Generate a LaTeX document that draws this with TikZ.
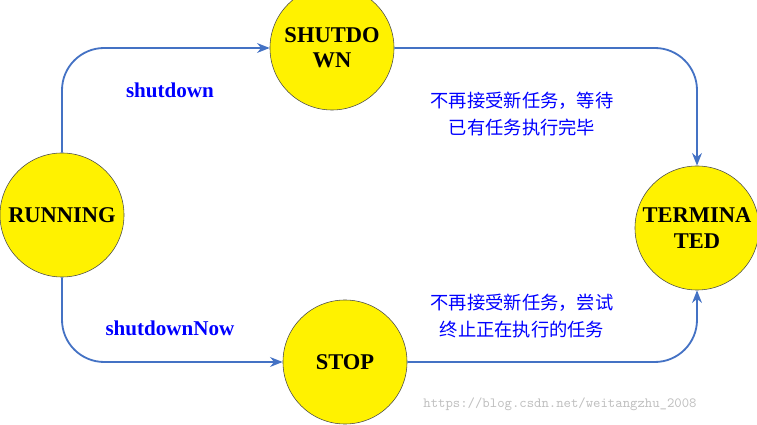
\documentclass[tikz,border=0pt]{standalone}
\usepackage{fontspec}
\setmainfont{Liberation Serif}
\newfontfamily\cjk{Noto Sans CJK SC}
\usetikzlibrary{arrows.meta}
\definecolor{flowblue}{RGB}{68,114,196}
\tikzset{
  state/.style={circle,draw=black!70,fill=yellow,minimum size=3.1cm,inner sep=0pt,
    align=center,font=\fontsize{16}{18}\selectfont\bfseries},
  flow/.style={draw=flowblue,line width=1.3pt,rounded corners=30pt,-{Stealth[length=9pt,width=7pt]}},
  act/.style={text=blue,font=\fontsize{15}{17}\selectfont\bfseries},
  note/.style={text=blue,align=center,font=\cjk\fontsize{13}{19}\selectfont}
}
\begin{document}
\begin{tikzpicture}[x=0.025cm,y=-0.025cm]
  \useasboundingbox (0,0) rectangle (757,425);
  % states
  \node[state] (run) at (62,215) {RUNNING};
  \node[state] (sd) at (332,48) {SHUTDO\\WN};
  \node[state] (stop) at (345,362) {STOP};
  \node[state] (term) at (697,228) {TERMINA\\TED};
  % transitions
  \draw[flow] (run.north) |- (sd.west);
  \draw[flow] (sd.east) -| (term.north);
  \draw[flow] (run.south) |- (stop.west);
  \draw[flow] (stop.east) -| (term.south);
  % labels
  \node[act] (lsd) at (170,90) {shutdown};
  \node[act] (lnow) at (170,328) {shutdownNow};
  \node[note] (nsd) at (522,114) {不再接受新任务，等待\\已有任务执行完毕};
  \node[note] (nstop) at (522,316) {不再接受新任务，尝试\\终止正在执行的任务};
  \node[text=black!25,font=\ttfamily] (wm) at (560,404) {https://blog.csdn.net/weitangzhu\_2008};
\end{tikzpicture}
\end{document}
